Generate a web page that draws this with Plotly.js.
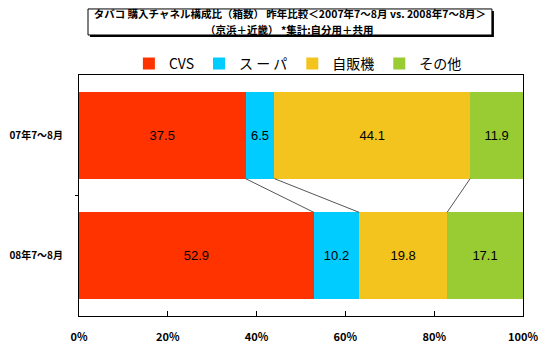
<!DOCTYPE html>
<html>
<head>
<meta charset="utf-8">
<script src="https://cdn.plot.ly/plotly-3.0.1.min.js"></script>
<style>html,body{margin:0;padding:0;background:#fff;}#chart{width:550px;height:356px;}</style>
</head>
<body>
<div id="chart"></div>
<script>
// Data
const periods = ['07年7〜8月', '08年7〜8月'];
const seriesNames = ['CVS', 'ス ー パ', '自販機', 'その他'];
const cvs = [37.5, 52.9];
const supa = [6.5, 10.2];
const vending = [44.1, 19.8];
const other = [11.9, 17.1];
const xTicks = [0, 20, 40, 60, 80, 100];
const xTickText = ['0%', '20%', '40%', '60%', '80%', '100%'];
const titleLine1 = 'タバコ 購入チャネル構成比（箱数） 昨年比較＜2007年7〜8月 vs. 2008年7〜8月＞';
const titleLine2 = '（京浜＋近畿） *集計:自分用＋共用';

const colors = ['#FF3300', '#00CCFF', '#F4C41E', '#99CC33'];
const allSeries = [cvs, supa, vending, other];
const yIdx = periods.map((p, i) => i);
const barWidth = 0.72;
const JP = '"Noto Sans CJK JP", "Noto Sans", sans-serif';

const traces = allSeries.map((vals, k) => ({
  type: 'bar',
  orientation: 'h',
  name: seriesNames[k],
  x: vals,
  y: yIdx,
  width: barWidth,
  marker: {color: colors[k], line: {width: 0}},
  text: vals.map(v => v.toFixed(1)),
  texttemplate: '%{text}',
  textposition: 'inside',
  insidetextanchor: 'middle',
  textangle: 0,
  constraintext: 'none',
  textfont: {family: '"Liberation Sans", Arial, sans-serif', size: 13, color: '#000'},
  hoverinfo: 'skip'
}));

// connector lines between cumulative boundaries of the two bars
const cum = yIdx.map(i => {
  let s = 0; const out = [];
  for (let k = 0; k < allSeries.length - 1; k++) { s += allSeries[k][i]; out.push(s); }
  return out;
});
for (let k = 0; k < allSeries.length - 1; k++) {
  traces.push({
    type: 'scatter', mode: 'lines',
    x: [cum[0][k], cum[1][k]],
    y: [yIdx[0] + barWidth / 2, yIdx[1] - barWidth / 2],
    line: {color: '#555', width: 1},
    showlegend: false, hoverinfo: 'skip'
  });
}
// invisible trace on y2 for boundary tick
traces.push({type: 'scatter', mode: 'markers', x: [0], y: [0.5], yaxis: 'y2',
  marker: {opacity: 0}, showlegend: false, hoverinfo: 'skip'});

const layout = {
  width: 550, height: 356,
  margin: {l: 79, r: 27, t: 75, b: 40},
  paper_bgcolor: '#fff', plot_bgcolor: '#fff',
  barmode: 'stack',
  bargap: 0,
  title: {
    text: '<b>' + titleLine1 + '</b>',
    font: {family: JP, size: 10.5, color: '#000'},
    xref: 'paper', x: 0.475, xanchor: 'center',
    yref: 'container', y: 1 - 14.5 / 356, yanchor: 'middle'
  },
  annotations: [{
    text: '<b>' + titleLine2 + '</b>', showarrow: false,
    xref: 'paper', yref: 'paper', x: 0.475, xanchor: 'center',
    y: (316 - 29.5) / 241, yanchor: 'middle',
    font: {family: JP, size: 10.5, color: '#000'}
  }],
  showlegend: true,
  legend: {
    orientation: 'h', x: 0.493, xanchor: 'center', y: 1.046, yanchor: 'middle',
    font: {family: JP, size: 14, color: '#000'},
    itemwidth: 30, traceorder: 'normal', bgcolor: 'rgba(0,0,0,0)'
  },
  xaxis: {
    range: [0, 100], tickvals: xTicks, ticktext: xTickText.map(t => '<b>' + t + '</b>'),
    ticks: 'inside', ticklen: 5, tickcolor: '#000',
    showgrid: false, zeroline: false,
    showline: true, mirror: true, linecolor: '#000', linewidth: 1,
    tickfont: {family: JP, size: 11, color: '#000'},
    ticklabelstandoff: 11, fixedrange: true
  },
  yaxis: {
    range: [1.5, -0.5], tickvals: yIdx, ticktext: periods.map(p => '<b>' + p + '</b>'),
    ticks: '', showgrid: false, zeroline: false,
    showline: true, mirror: true, linecolor: '#000', linewidth: 1,
    tickfont: {family: JP, size: 10, color: '#000'},
    ticklabelstandoff: 13, fixedrange: true
  },
  yaxis2: {
    overlaying: 'y', side: 'left', range: [1.5, -0.5],
    tickvals: [0.5], ticktext: [''], ticks: 'outside', ticklen: 3, tickcolor: '#000',
    showgrid: false, zeroline: false, showline: false, fixedrange: true
  },
  shapes: [
    {type: 'rect', xref: 'paper', yref: 'paper', x0: 0.0248, x1: 0.9345, y0: 1.158, y1: 1.266,
      fillcolor: '#000', line: {width: 0}, layer: 'above'},
    {type: 'rect', xref: 'paper', yref: 'paper', x0: 0.0203, x1: 0.930, y0: 1.166, y1: 1.274,
      fillcolor: '#fff', line: {color: '#000', width: 1}, layer: 'above'}
  ]
};

Plotly.newPlot('chart', traces, layout, {displayModeBar: false, staticPlot: true});
</script>
</body>
</html>
